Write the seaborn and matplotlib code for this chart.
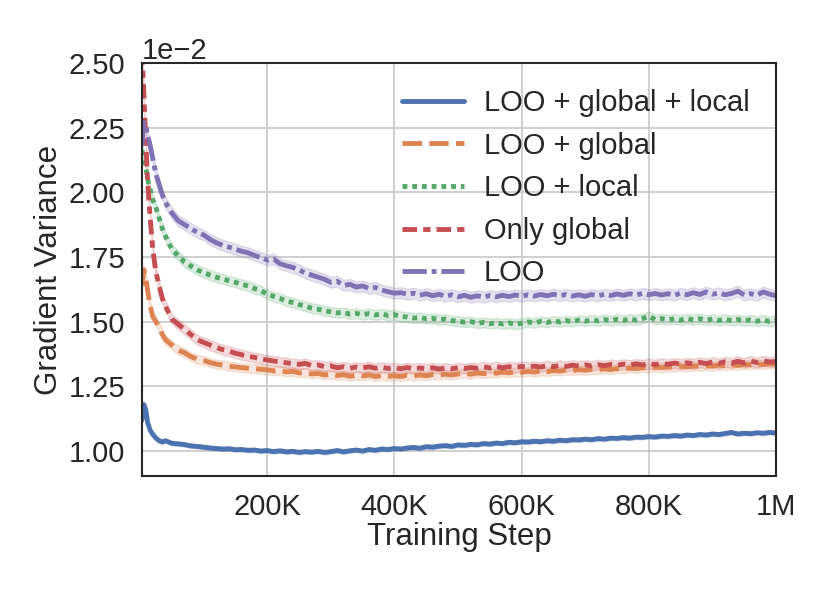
import matplotlib
matplotlib.use("Agg")
import matplotlib.pyplot as plt
import pandas as pd
import seaborn as sns

# Training steps (in thousands)
steps_k = [3, 6, 9, 12, 16, 20, 25, 30, 35, 40, 50, 60, 70, 80, 90] + list(range(100, 1001, 10))

# Gradient variance, in units of 1e-2
var_full = [
    1.12, 1.18, 1.16, 1.11, 1.08, 1.065, 1.05, 1.04, 1.035, 1.04, 1.03, 1.028, 1.025, 1.02, 1.018,
    1.015, 1.012, 1.010, 1.008, 1.009, 1.005, 1.006, 1.003, 1.004, 1.000,
    1.002, 0.998, 1.001, 0.997, 0.999, 0.995, 0.998, 0.996, 0.999, 0.995,
    0.998, 1.002, 0.997, 1.001, 1.004, 1.000, 1.006, 1.003, 1.008, 1.006,
    1.010, 1.008, 1.012, 1.014, 1.011, 1.017, 1.015, 1.019, 1.021, 1.018,
    1.024, 1.022, 1.026, 1.024, 1.029, 1.027, 1.031, 1.029, 1.034, 1.032,
    1.036, 1.035, 1.038, 1.036, 1.040, 1.038, 1.042, 1.040, 1.044, 1.043,
    1.046, 1.044, 1.048, 1.046, 1.050, 1.049, 1.052, 1.050, 1.054, 1.053,
    1.056, 1.054, 1.058, 1.057, 1.060, 1.058, 1.062, 1.060, 1.064, 1.062,
    1.066, 1.064, 1.068, 1.072, 1.066, 1.069, 1.067, 1.071, 1.069, 1.072,
    1.070,
]
var_global = [
    1.64, 1.70, 1.67, 1.62, 1.56, 1.52, 1.50, 1.48, 1.45, 1.43, 1.41, 1.39, 1.38, 1.365, 1.355,
    1.350, 1.342, 1.336, 1.333, 1.328, 1.325, 1.322, 1.320, 1.318, 1.316,
    1.314, 1.310, 1.312, 1.306, 1.308, 1.302, 1.304, 1.298, 1.300, 1.294,
    1.297, 1.292, 1.295, 1.289, 1.293, 1.290, 1.294, 1.288, 1.292, 1.289,
    1.291, 1.288, 1.293, 1.290, 1.294, 1.291, 1.296, 1.293, 1.297, 1.294,
    1.298, 1.300, 1.297, 1.302, 1.299, 1.303, 1.301, 1.305, 1.302, 1.306,
    1.304, 1.308, 1.305, 1.310, 1.307, 1.311, 1.309, 1.313, 1.311, 1.315,
    1.312, 1.316, 1.314, 1.318, 1.315, 1.319, 1.317, 1.321, 1.319, 1.323,
    1.321, 1.325, 1.322, 1.326, 1.324, 1.328, 1.325, 1.329, 1.327, 1.331,
    1.328, 1.332, 1.330, 1.334, 1.331, 1.335, 1.333, 1.337, 1.334, 1.338,
    1.336,
]
var_local = [
    2.16, 2.14, 2.10, 2.05, 2.01, 1.97, 1.94, 1.90, 1.86, 1.83, 1.78, 1.755, 1.73, 1.715, 1.70,
    1.690, 1.680, 1.672, 1.665, 1.658, 1.652, 1.644, 1.638, 1.628, 1.620,
    1.606, 1.598, 1.590, 1.580, 1.574, 1.566, 1.560, 1.552, 1.548, 1.542,
    1.538, 1.534, 1.536, 1.529, 1.532, 1.527, 1.531, 1.526, 1.530, 1.524,
    1.527, 1.520, 1.518, 1.514, 1.516, 1.511, 1.513, 1.508, 1.510, 1.504,
    1.502, 1.498, 1.500, 1.494, 1.497, 1.492, 1.496, 1.491, 1.495, 1.490,
    1.494, 1.499, 1.495, 1.501, 1.497, 1.503, 1.499, 1.504, 1.500, 1.506,
    1.502, 1.507, 1.503, 1.508, 1.504, 1.509, 1.505, 1.511, 1.506, 1.512,
    1.521, 1.508, 1.512, 1.507, 1.511, 1.506, 1.512, 1.507, 1.511, 1.506,
    1.510, 1.505, 1.509, 1.504, 1.508, 1.503, 1.507, 1.502, 1.506, 1.501,
    1.505,
]
var_only_global = [
    2.55, 2.38, 2.20, 2.04, 1.90, 1.78, 1.69, 1.64, 1.59, 1.56, 1.51, 1.49, 1.47, 1.45, 1.43,
    1.420, 1.410, 1.400, 1.392, 1.386, 1.378, 1.372, 1.366, 1.362, 1.356,
    1.352, 1.348, 1.345, 1.341, 1.338, 1.335, 1.339, 1.330, 1.333, 1.326,
    1.329, 1.322, 1.326, 1.320, 1.325, 1.321, 1.326, 1.320, 1.324, 1.319,
    1.322, 1.318, 1.323, 1.317, 1.321, 1.318, 1.322, 1.317, 1.321, 1.318,
    1.322, 1.319, 1.323, 1.320, 1.326, 1.321, 1.327, 1.322, 1.326, 1.323,
    1.327, 1.324, 1.328, 1.325, 1.330, 1.326, 1.331, 1.327, 1.332, 1.328,
    1.333, 1.329, 1.334, 1.330, 1.335, 1.331, 1.336, 1.332, 1.337, 1.333,
    1.338, 1.334, 1.339, 1.335, 1.340, 1.336, 1.341, 1.337, 1.343, 1.338,
    1.344, 1.339, 1.345, 1.340, 1.347, 1.341, 1.348, 1.342, 1.349, 1.344,
    1.346,
]
var_loo = [
    2.18, 2.27, 2.26, 2.22, 2.18, 2.13, 2.07, 2.03, 1.99, 1.96, 1.92, 1.89, 1.875, 1.86, 1.845,
    1.835, 1.818, 1.805, 1.795, 1.788, 1.780, 1.772, 1.766, 1.756, 1.748,
    1.738, 1.742, 1.724, 1.716, 1.710, 1.700, 1.688, 1.680, 1.672, 1.664,
    1.652, 1.656, 1.640, 1.644, 1.634, 1.638, 1.628, 1.632, 1.622, 1.616,
    1.610, 1.612, 1.606, 1.610, 1.602, 1.608, 1.600, 1.606, 1.598, 1.604,
    1.596, 1.602, 1.594, 1.600, 1.595, 1.601, 1.596, 1.602, 1.597, 1.603,
    1.598, 1.604, 1.599, 1.605, 1.600, 1.606, 1.601, 1.605, 1.599, 1.604,
    1.598, 1.605, 1.600, 1.606, 1.601, 1.607, 1.602, 1.608, 1.603, 1.609,
    1.604, 1.609, 1.603, 1.608, 1.602, 1.610, 1.604, 1.612, 1.605, 1.615,
    1.606, 1.611, 1.604, 1.609, 1.618, 1.603, 1.608, 1.602, 1.615, 1.606,
    1.600,
]

methods = ["LOO + global + local", "LOO + global", "LOO + local", "Only global", "LOO"]
series = [var_full, var_global, var_local, var_only_global, var_loo]
# half width of the shaded band (1e-2 units)
spread = [0.008, 0.017, 0.019, 0.019, 0.021]

rows = []
for name, vals, w in zip(methods, series, spread):
    for s, v in zip(steps_k, vals):
        for d in (-w, 0.0, w):
            rows.append({"step": s * 1000, "var": (v + d) * 0.01, "method": name})
df = pd.DataFrame(rows)

sns.set_theme(style="whitegrid", rc={"axes.edgecolor": ".15", "axes.linewidth": 1.5,
                                     "grid.color": ".8", "grid.linewidth": 1.3})
plt.rcParams["font.family"] = ["Liberation Sans", "DejaVu Sans"]

fig = plt.figure(figsize=(8.3, 5.93), dpi=100)
ax = fig.add_axes([0.171, 0.197, 0.764, 0.697])

sns.lineplot(data=df, x="step", y="var", hue="method", style="method",
             hue_order=methods, style_order=methods, dashes=True,
             linewidth=3.5, errorbar=("pi", 100), ax=ax)

ax.set_xlim(3000, 1_000_000)
ax.set_ylim(0.00903, 0.025)
ax.set_xticks([200000, 400000, 600000, 800000, 1000000])
ax.set_xticklabels(["200K", "400K", "600K", "800K", "1M"])
ax.set_yticks([0.01, 0.0125, 0.015, 0.0175, 0.02, 0.0225, 0.025])
ax.ticklabel_format(axis="y", style="sci", scilimits=(-2, -2), useMathText=False)
ax.tick_params(labelsize=21, length=0)
ax.tick_params(axis="x", pad=12)
ax.tick_params(axis="y", pad=12)
ax.yaxis.get_offset_text().set_fontsize(21)
ax.set_xlabel("Training Step", fontsize=22.5, labelpad=1)
ax.set_ylabel("Gradient Variance", fontsize=22.5, labelpad=3)

handles, labels = ax.get_legend_handles_labels()
ax.legend(handles, labels, frameon=False, fontsize=21, loc="upper right",
          handlelength=2.1, handletextpad=0.7, borderaxespad=0.5)

fig.savefig("out.png", dpi=100)
